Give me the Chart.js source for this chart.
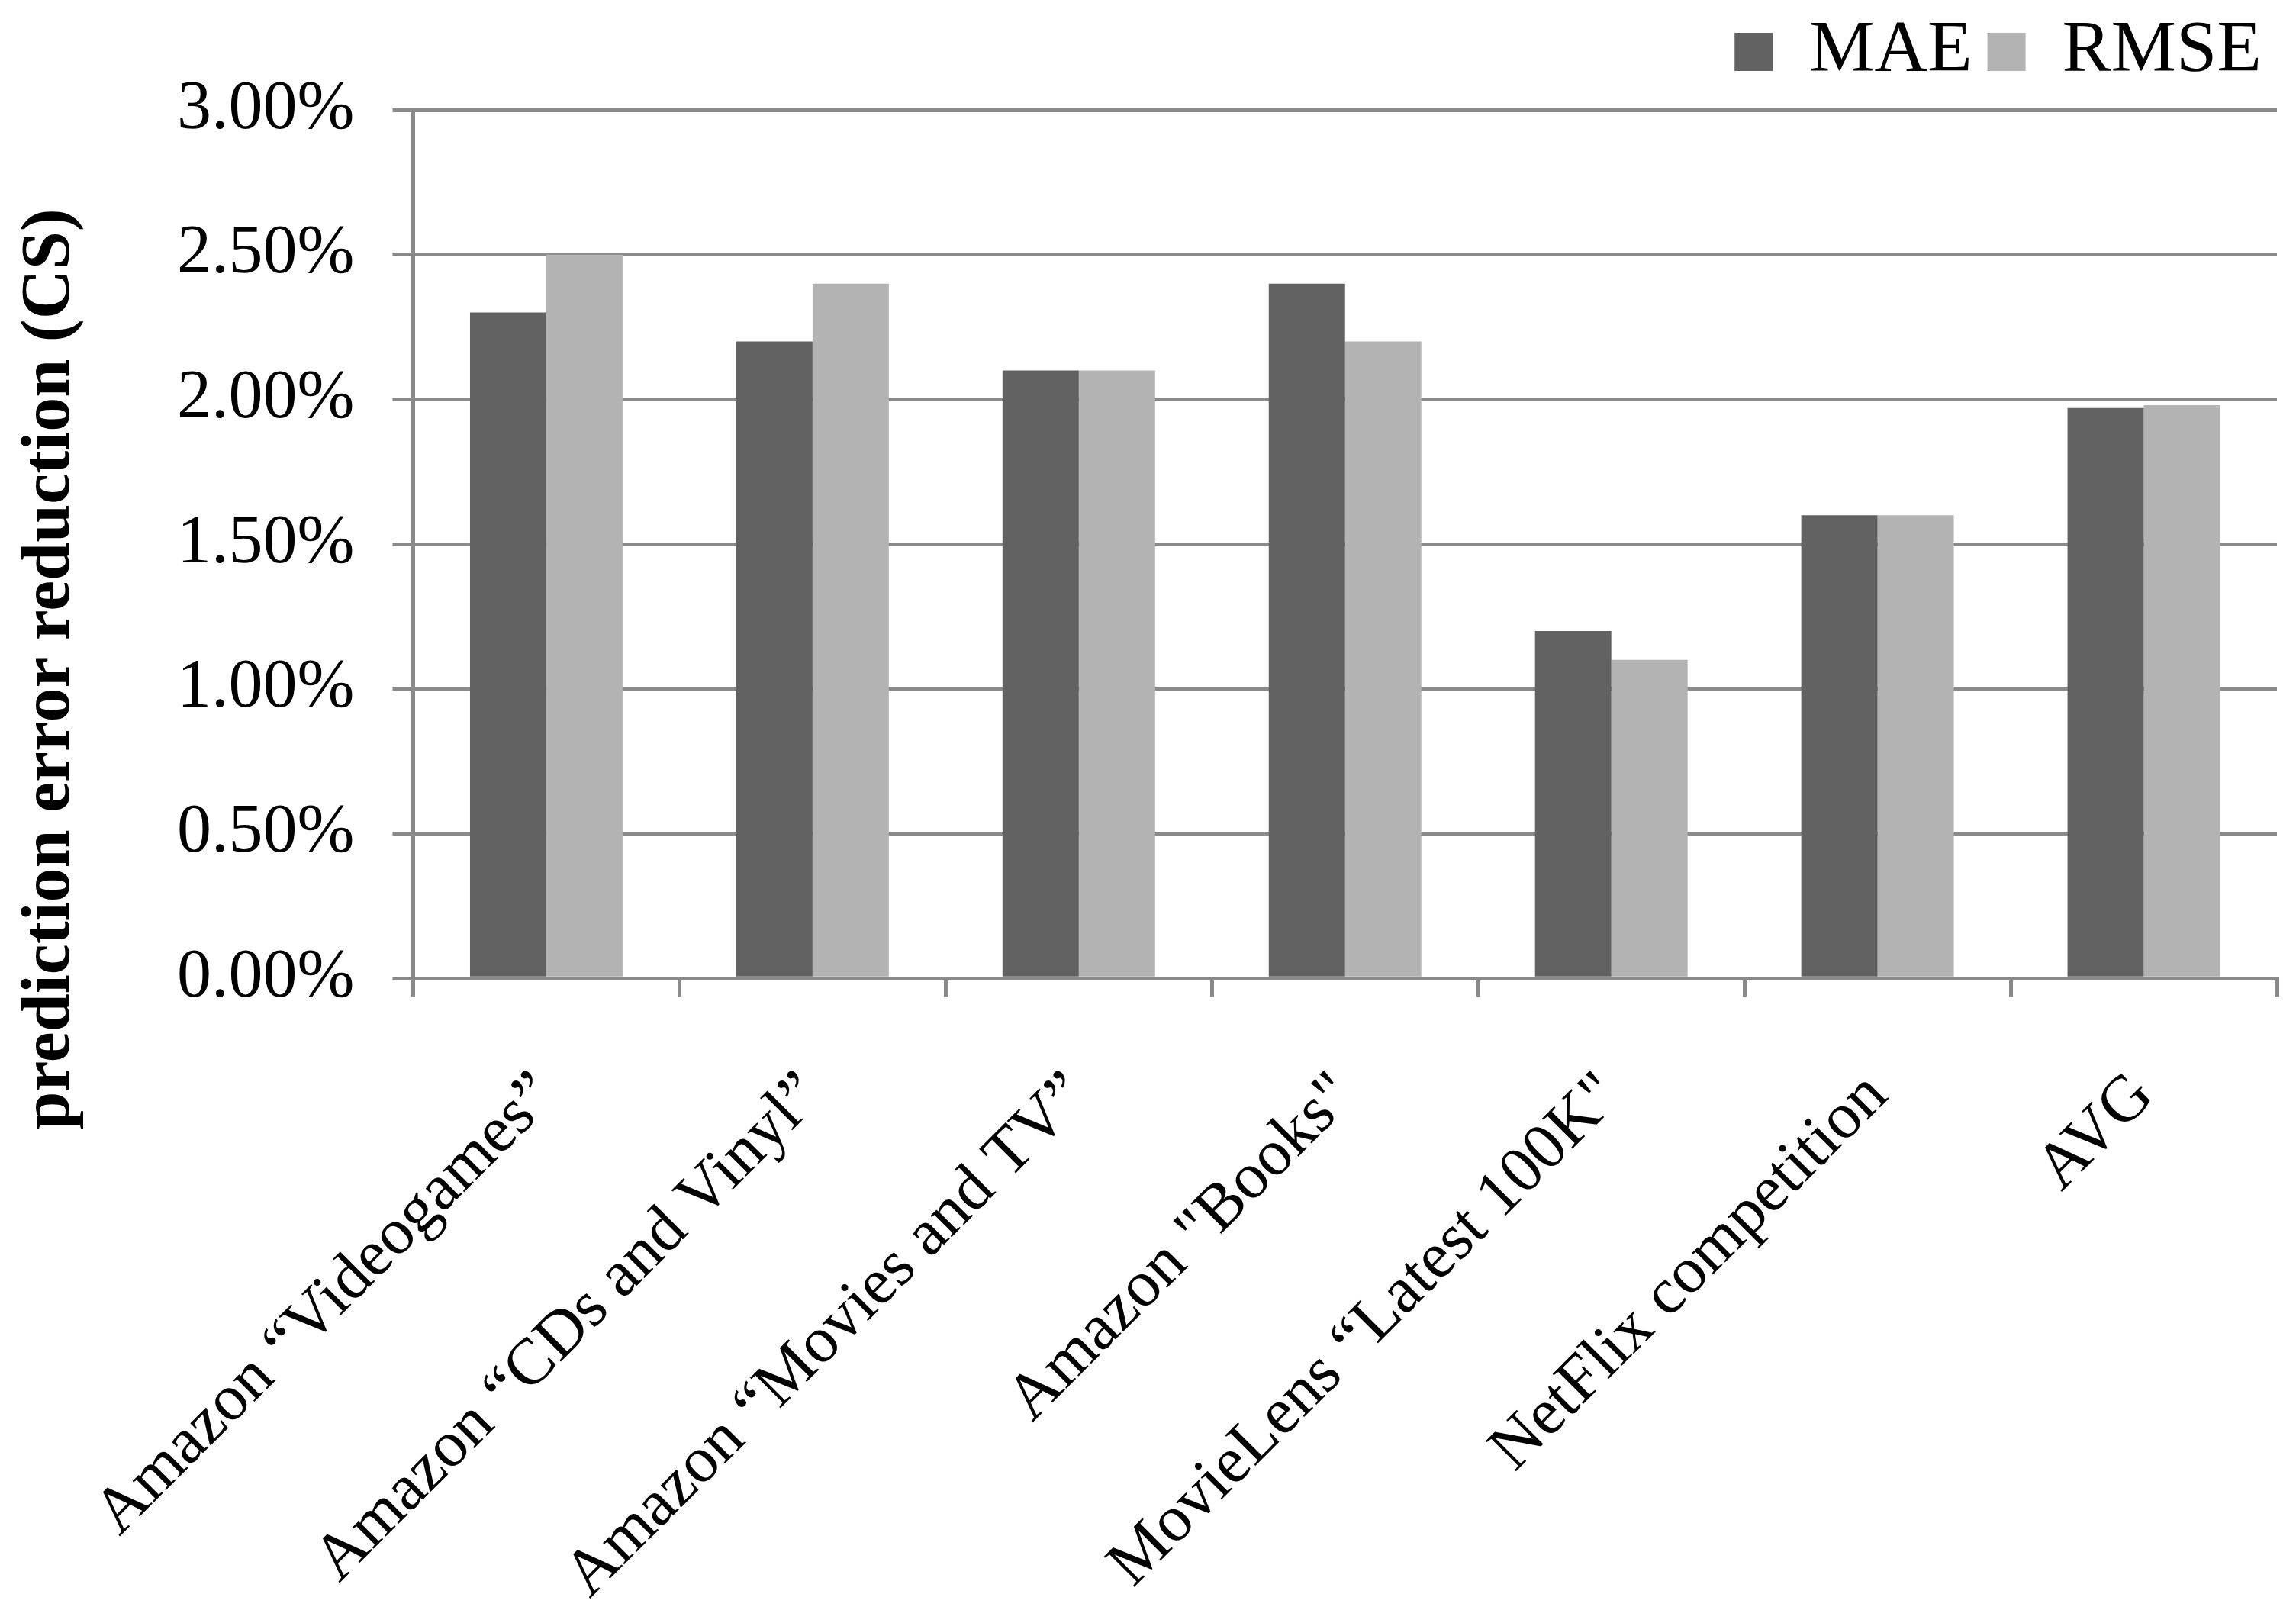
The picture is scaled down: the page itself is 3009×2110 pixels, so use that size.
<!DOCTYPE html>
<html>
<head>
<meta charset="utf-8">
<script src="https://cdn.jsdelivr.net/npm/chart.js@4"></script>
<style>
  html, body { margin: 0; padding: 0; background: #fff; }
  #wrap { width: 3009px; height: 2110px; }
</style>
</head>
<body>
<div id="wrap"><canvas id="chartCanvas"></canvas></div>
<script>
// data (values in %)
const categories = [
  "Amazon \u201cVideogames\u201d",
  "Amazon \u201cCDs and Vinyl\u201d",
  "Amazon \u201cMovies and TV\u201d",
  "Amazon \"Books\"",
  "MovieLens \u201cLatest 100K\"",
  "NetFlix competition",
  "AVG"
];
const maeValues = [2.30, 2.20, 2.10, 2.40, 1.20, 1.60, 1.97];
const rmseValues = [2.50, 2.40, 2.10, 2.20, 1.10, 1.60, 1.98];
const yTicks = [0, 0.5, 1, 1.5, 2, 2.5, 3];
const yTitle = "prediction error reduction (CS)";

const serif = "'Liberation Serif', 'Times New Roman', serif";
const gridGray = "#8a8a8a";

Chart.defaults.font.family = serif;
Chart.defaults.color = "#000";

// y axis title drawn by hand so it sits where the original has it
const yTitlePlugin = {
  id: "yTitle",
  beforeInit(chart) {
    // a bit more room under the legend
    const fit = chart.legend.fit;
    chart.legend.fit = function () {
      fit.call(this);
      this.height += 18;
    };
  },
  afterDraw(chart) {
    const ctx = chart.ctx;
    ctx.save();
    ctx.translate(67, 877);
    ctx.rotate(-Math.PI / 2);
    ctx.font = "bold 90px " + serif;
    ctx.fillStyle = "#000";
    ctx.textAlign = "center";
    ctx.textBaseline = "middle";
    ctx.fillText(yTitle, 0, 0);
    ctx.restore();
  }
};

new Chart(document.getElementById("chartCanvas").getContext("2d"), {
  type: "bar",
  data: {
    labels: categories,
    datasets: [
      { label: "MAE", data: maeValues, backgroundColor: "#626262" },
      { label: "RMSE", data: rmseValues, backgroundColor: "#b3b3b3" }
    ]
  },
  options: {
    responsive: true,
    maintainAspectRatio: false,
    animation: false,
    devicePixelRatio: 1,
    datasets: { bar: { barPercentage: 1, categoryPercentage: 0.573 } },
    layout: { padding: { left: 182, right: 25, top: 0, bottom: 14 } },
    plugins: {
      legend: {
        position: "top",
        align: "end",
        labels: {
          font: { size: 96 },
          boxWidth: 50,
          boxHeight: 50,
          padding: 20,
          color: "#000"
        }
      },
      tooltip: { enabled: false },
      yTitle: {}
    },
    scales: {
      x: {
        // chart.js reserves more room than the rotated labels need
        afterFit(scale) { scale.height -= 100; },
        grid: {
          offset: true,
          drawOnChartArea: false,
          drawTicks: true,
          tickLength: 24,
          color: gridGray,
          lineWidth: 5
        },
        border: { color: gridGray, width: 5 },
        ticks: {
          minRotation: 45,
          maxRotation: 45,
          padding: 80,
          font: { size: 86 },
          color: "#000"
        }
      },
      y: {
        min: 0,
        max: 3,
        afterBuildTicks(axis) { axis.ticks = yTicks.map(v => ({ value: v })); },
        grid: { color: gridGray, lineWidth: 5, tickLength: 27 },
        border: { color: gridGray, width: 5 },
        ticks: {
          padding: 50,
          font: { size: 90 },
          color: "#000",
          callback: v => v.toFixed(2) + "%"
        }
      }
    }
  },
  plugins: [yTitlePlugin]
});
</script>
</body>
</html>
